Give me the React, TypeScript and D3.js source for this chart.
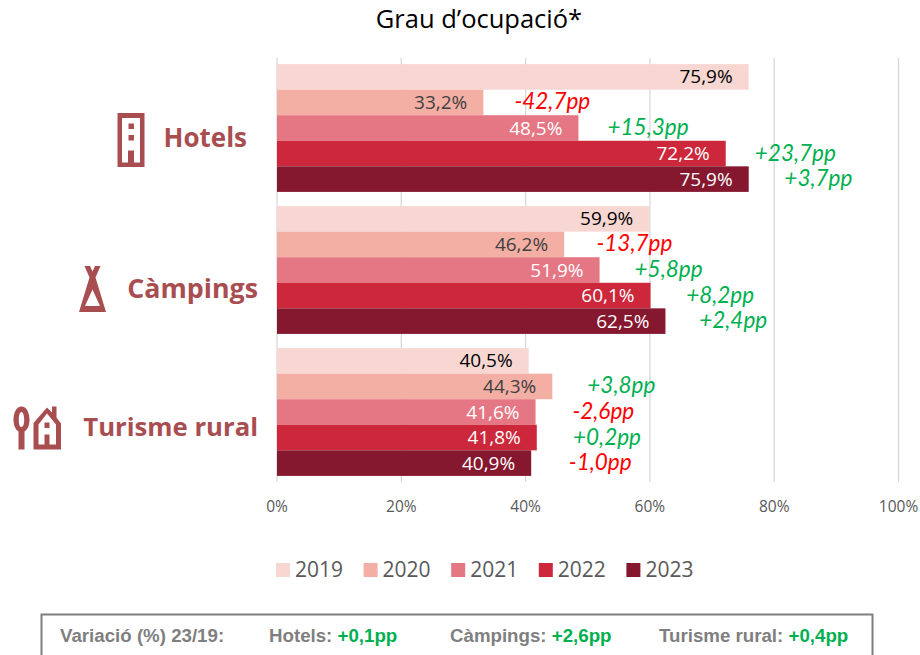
import React from "react";
import * as d3 from "d3";

const categories = ["Hotels", "Càmpings", "Turisme rural"];
const years = ["2019", "2020", "2021", "2022", "2023"];
const colors = ["#F8D7D2", "#F4AFA5", "#E57683", "#CC273B", "#85172E"];
const labelColors = ["#000000", "#404040", "#FFFFFF", "#FFFFFF", "#FFFFFF"];
const hotels = [75.9, 33.2, 48.5, 72.2, 75.9];
const campings = [59.9, 46.2, 51.9, 60.1, 62.5];
const rural = [40.5, 44.3, 41.6, 41.8, 40.9];
const hotelsPP = ["", "-42,7pp", "+15,3pp", "+23,7pp", "+3,7pp"];
const campingsPP = ["", "-13,7pp", "+5,8pp", "+8,2pp", "+2,4pp"];
const ruralPP = ["", "+3,8pp", "-2,6pp", "+0,2pp", "-1,0pp"];
const hotelsPPAt = [0, 44.3, 59.7, 83.4, 87.1];
const campingsPPAt = [0, 57.5, 63.0, 71.3, 73.4];
const ruralPPAt = [0, 55.4, 52.5, 53.1, 52.0];
const ticks = [0, 20, 40, 60, 80, 100];
const summary = [
  { name: "Hotels:", value: "+0,1pp" },
  { name: "Càmpings:", value: "+2,6pp" },
  { name: "Turisme rural:", value: "+0,4pp" },
];
const rows = [hotels, campings, rural];
const ppRows = [hotelsPP, campingsPP, ruralPP];
const ppAt = [hotelsPPAt, campingsPPAt, ruralPPAt];

const ICON = "#A94E50";
const GREEN = "#00B050";
const RED = "#FF0000";
const FONT = "'Open Sans', sans-serif";
const DATA_FONT = "Lato, 'Open Sans', sans-serif";

const x = d3.scaleLinear().domain([0, 100]).range([277, 898.5]);
const yGroup = d3.scaleBand<string>().domain(categories).range([57, 483]).paddingInner(0.1).paddingOuter(0.05);
const yBar = d3.scaleBand<string>().domain(years).range([0, yGroup.bandwidth()]);

export default function App() {
  return (
    <svg width={920} height={655} style={{ position: "absolute", left: 0, top: 0, background: "#fff" }}>
      <text x={479} y={28} textAnchor="middle" fontFamily={FONT} fontSize={25.500} fill="#000">Grau d’ocupació*</text>

      {ticks.map((t) => (
        <g key={t}>
          <line x1={x(t)} x2={x(t)} y1={58} y2={482} stroke="#D9D9D9" strokeWidth={1.3} />
          <text x={x(t)} y={512} textAnchor="middle" fontFamily={FONT} fontSize={15.500} fill="#595959">{t}%</text>
        </g>
      ))}

      {categories.map((c, i) => (
        <g key={c}>
          {years.map((yr, j) => {
            const y0 = yGroup(c)! + yBar(yr)!;
            const h = yBar.bandwidth();
            const v = rows[i][j];
            const cy = y0 + h / 2 + 6.500;
            const pp = ppRows[i][j];
            return (
              <g key={yr}>
                <rect x={x(0)} y={y0} width={x(v) - x(0)} height={h} fill={colors[j]} />
                <text x={x(v) - 16} y={cy} textAnchor="end" fontFamily={FONT} fontSize={19} fill={labelColors[j]}>
                  {v.toFixed(1).replace(".", ",")}%
                </text>
                {pp && (
                  <text x={x(ppAt[i][j])} y={cy + 0.500} textAnchor="middle" fontFamily={DATA_FONT} fontStyle="italic" fontSize={22.500}
                    fill={pp.startsWith("-") ? RED : GREEN}>{pp}</text>
                )}
              </g>
            );
          })}
        </g>
      ))}

      {/* category labels */}
      <text x={247} y={147} textAnchor="end" fontFamily={FONT} fontWeight={700} fontSize={26} fill={ICON}>Hotels</text>
      <text x={258} y={298} textAnchor="end" fontFamily={FONT} fontWeight={700} fontSize={26.800} fill={ICON}>Càmpings</text>
      <text x={258} y={436} textAnchor="end" fontFamily={FONT} fontWeight={700} fontSize={25.700} fill={ICON}>Turisme rural</text>

      {/* hotel icon */}
      <path fillRule="evenodd" fill={ICON}
        d="M117.500 113h27v54h-27zM122 118v44.500h6v-12h6v12h6v-44.500zM128.500 123.500h5.500v5.500h-5.500zM128.500 135h5.500v5.500h-5.500z" />
      {/* tent icon */}
      <path fillRule="evenodd" fill={ICON}
        d="M84.500 266h5.500l2.500 5.500 2.500-5.500h5.500l-5 11.500 10.500 34.500h-27l10.500-34.500zM92.500 289.500l-7.500 16.500h15z" />
      {/* spoon icon */}
      <path fillRule="evenodd" fill={ICON}
        d="M21.500 406.500c5 0 8 6 8 13.500 0 6-2.500 10-5 11.500v18h-6v-18c-2.500-1.500-5-5.500-5-11.500 0-7.500 3-13.500 8-13.500zM21.500 412c-1.700 0-2.700 3.500-2.700 8s1 7 2.700 7 2.700-3 2.700-7-1-8-2.700-8z" />
      {/* house icon */}
      <path fillRule="evenodd" fill={ICON}
        d="M33.500 449.500v-26.500l13.500-15.500 5 5v-6h4.500v11l4.500 6v26zM38.500 444.500h6v-10h5v10h6.500v-20l-9-11-8.500 11zM44.500 422.500h5v5.500h-5z" />

      {/* legend */}
      {years.map((yr, i) => {
        const lx = 276 + i * 87.600;
        return (
          <g key={yr}>
            <rect x={lx} y={563} width={14} height={14} fill={colors[i]} />
            <text x={lx + 19} y={577} fontFamily={FONT} fontSize={21} fill="#595959">{yr}</text>
          </g>
        );
      })}

      {/* summary box */}
      <rect x={41.500} y={614.500} width={831} height={50} fill="#fff" stroke="#7F7F7F" strokeWidth={2} />
      <g fontFamily="'Liberation Sans', Arial, sans-serif" fontWeight={700} fontSize={18.700}>
        <text x={60} y={642} fill="#7F7F7F">Variació (%) 23/19:</text>
        {summary.map((s, i) => (
          <text key={s.name} x={[269, 450, 659][i]} y={642} fill="#7F7F7F">
            {s.name} <tspan fill={GREEN}>{s.value}</tspan>
          </text>
        ))}
      </g>
    </svg>
  );
}
